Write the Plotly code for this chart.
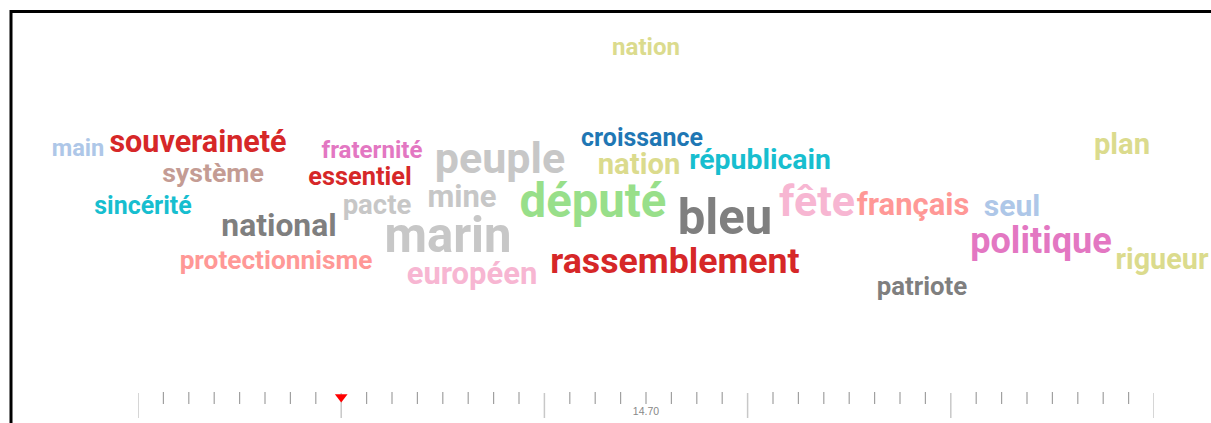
import plotly.graph_objects as go

# ---- word cloud data ----
words = ["nation", "main", "souveraineté", "système", "sincérité", "national",
         "protectionnisme", "fraternité", "essentiel", "pacte", "peuple", "mine",
         "marin", "européen", "croissance", "nation", "républicain", "député",
         "bleu", "rassemblement", "fête", "français", "seul", "politique",
         "plan", "rigueur", "patriote"]
weights = [28, 27.5, 35.5, 31, 29, 37, 30.5, 28, 29.5, 32, 50, 36, 57, 36,
           29, 34, 33, 55, 57, 41.5, 50, 36, 35, 42, 34, 33.5, 30]

# ---- layout of the cloud (pixel x centre and text baseline of each word) ----
pos_x = [646, 78, 198, 213, 143, 279, 276, 372, 360, 377, 500, 462, 448, 472,
         642, 639, 760, 593, 725, 675, 817, 913, 1012, 1041, 1122, 1162, 922]
baseline_y = [57, 158, 155, 185, 216, 239, 272, 160, 188, 217, 177, 210, 257,
              287, 148, 177, 172, 222, 239, 277, 220, 218, 219, 257, 157, 272, 298]
colors = ["#dbdb8d", "#aec7e8", "#d62728", "#c49c94", "#17becf", "#7f7f7f",
          "#ff9896", "#e377c2", "#d62728", "#c7c7c7", "#c7c7c7", "#c7c7c7",
          "#c7c7c7", "#f7b6d2", "#1f77b4", "#dbdb8d", "#17becf", "#98df8a",
          "#7f7f7f", "#d62728", "#f7b6d2", "#ff9896", "#aec7e8", "#e377c2",
          "#dbdb8d", "#dbdb8d", "#7f7f7f"]

# ---- timeline slider data ----
slider_steps = list(range(41))
major_every = 8
current_step = 8
label_step = 20
label_text = "14.70"

W, H = 1211, 423
FONT = "Roboto, 'Liberation Sans', sans-serif"
size_scale = 0.86
MIDDLE_OFFSET = 0.35  # plotly puts the baseline ~0.35em below a "middle" text anchor

fig = go.Figure()

for w, s, x, b, c in zip(words, weights, pos_x, baseline_y, colors):
    fs = s * size_scale
    fig.add_trace(go.Scatter(
        x=[x], y=[b - MIDDLE_OFFSET * fs], mode="text", text=[w],
        textposition="middle center",
        textfont=dict(family=FONT, size=fs, color=c, weight="bold"),
        hoverinfo="skip", showlegend=False, cliponaxis=False))

# slider ticks
for is_major in (False, True):
    tx, ty = [], []
    for t in slider_steps:
        if (t % major_every == 0) != is_major:
            continue
        tx += [t, t, None]
        ty += ([393, 418, None] if is_major else [392, 404, None])
    fig.add_trace(go.Scatter(
        x=tx, y=ty, mode="lines", xaxis="x2", yaxis="y",
        line=dict(color="#c8c8c8" if is_major else "#a0a0a0",
                  width=1.5 if is_major else 1.2),
        hoverinfo="skip", showlegend=False))
fig.add_trace(go.Scatter(x=[current_step], y=[397], mode="markers", xaxis="x2", yaxis="y",
                         marker=dict(symbol="triangle-down", size=11, color="#ff0000",
                                     line=dict(width=0)),
                         hoverinfo="skip", showlegend=False, cliponaxis=False))
fig.add_trace(go.Scatter(x=[label_step], y=[412], mode="text", xaxis="x2", yaxis="y",
                         text=[label_text], textposition="middle center",
                         textfont=dict(family="Liberation Sans, Arial, sans-serif",
                                       size=10.5, color="#888888"),
                         hoverinfo="skip", showlegend=False, cliponaxis=False))

fig.add_shape(type="rect", x0=11, y0=11.5, x1=1300, y1=500, xref="x", yref="y",
              line=dict(color="#000000", width=3), fillcolor="rgba(0,0,0,0)")

fig.update_layout(
    width=W, height=H, margin=dict(l=0, r=0, t=0, b=0),
    paper_bgcolor="white", plot_bgcolor="rgba(0,0,0,0)",
    xaxis=dict(range=[0, W], domain=[0, 1], visible=False, fixedrange=True),
    yaxis=dict(range=[H, 0], domain=[0, 1], visible=False, fixedrange=True),
    xaxis2=dict(range=[0, 40], domain=[138 / W, 1154 / W], visible=False,
                anchor="y", fixedrange=True),
    hovermode=False,
)

fig.write_html(
    "out.html",
    config={"displayModeBar": False},
    post_script="document.body.style.margin='0';document.body.style.overflow='hidden';",
)
